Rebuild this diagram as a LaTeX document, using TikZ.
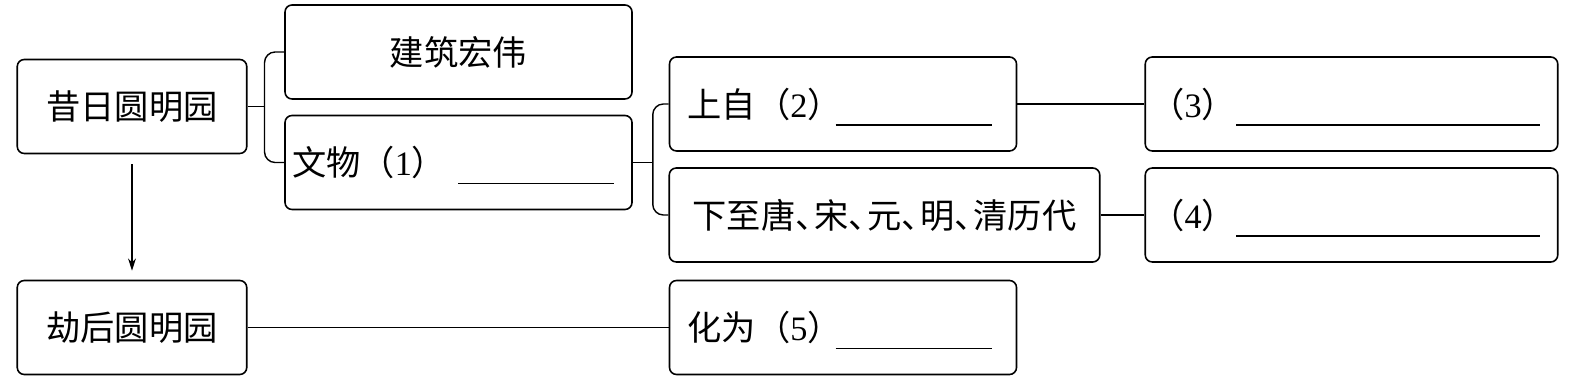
\documentclass[tikz,border=0pt]{standalone}
\usepackage{fontspec}
\setmainfont{Liberation Serif}
\newfontfamily\cjk{Noto Sans CJK SC}
\usetikzlibrary{arrows.meta}

\newcommand{\blanknum}[1]{（{\rmfamily #1}）}
\newcommand{\answerline}[1]{\raisebox{-5pt}[0pt][0pt]{\rule{#1}{0.8pt}}}
\newcommand{\dun}{、\hspace{-0.45em}}

\begin{document}
\begin{tikzpicture}[
    box/.style={draw, line width=0.9pt, rounded corners=4pt, inner sep=0pt,
                minimum height=1.88cm,
                font=\cjk\fontsize{19.5}{23}\selectfont},
    fillbox/.style={box, align=left},
    link/.style={line width=0.8pt},
    flow/.style={-{Stealth[length=7pt, width=4.5pt]}, line width=0.8pt},
]
    \useasboundingbox (0, 0) rectangle (31.56, 7.62);

    \node[box, minimum width=4.59cm] (xiri) at (2.64, 5.49) {昔日圆明园};
    \node[box, minimum width=4.59cm] (jiehou) at (2.64, 1.07) {劫后圆明园};
    \node[box, minimum width=6.94cm] (jianzhu) at (9.17, 6.58) {建筑宏伟};
    \node[fillbox, inner xsep=0.14cm, text width=6.66cm] (wenwu) at (9.17, 4.37)
        {\makebox[3.32cm][l]{文物\blanknum{1}}\answerline{3.12cm}};
    \node[fillbox, inner xsep=0.36cm, text width=6.22cm] (shangzi) at (16.86, 5.54)
        {\makebox[2.96cm][l]{上自\blanknum{2}}\answerline{3.12cm}};
    \node[box, minimum width=8.61cm] (xiazhi) at (17.69, 3.32)
        {下至唐\dun 宋\dun 元\dun 明\dun 清历代};
    \node[fillbox, inner xsep=0.1cm, text width=8.05cm] (ans3) at (27.03, 5.54)
        {\makebox[1.72cm][l]{\blanknum{3}}\answerline{6.08cm}};
    \node[fillbox, inner xsep=0.1cm, text width=8.05cm] (ans4) at (27.03, 3.32)
        {\makebox[1.72cm][l]{\blanknum{4}}\answerline{6.08cm}};
    \node[fillbox, inner xsep=0.36cm, text width=6.22cm] (huawei) at (16.86, 1.07)
        {\makebox[2.96cm][l]{化为\blanknum{5}}\answerline{3.12cm}};

    % brackets
    \draw[link] (xiri.east) -- ++(0.34, 0) coordinate (fork1);
    \draw[link, rounded corners=6pt] (jianzhu.west) -| (fork1) |- (wenwu.west);
    \draw[link] (wenwu.east) -- ++(0.4, 0) coordinate (fork2);
    \draw[link, rounded corners=6pt] (shangzi.west) -| (fork2) |- (xiazhi.west);

    \draw[link] (shangzi.east) -- (ans3.west);
    \draw[link] (xiazhi.east) -- (ans4.west);
    \draw[link] (jiehou.east) -- (huawei.west);
    \draw[flow, shorten <=0.2cm, shorten >=0.18cm] (xiri.south) -- (jiehou.north);
\end{tikzpicture}
\end{document}
